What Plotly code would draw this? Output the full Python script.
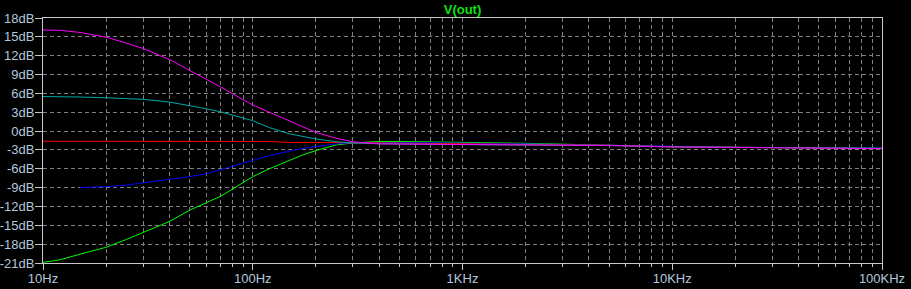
import plotly.graph_objects as go

freqs = [10, 12, 15, 20, 25, 30, 40, 50, 60, 70, 80, 90, 100, 120, 150, 170, 200,
         250, 300, 400, 500, 700, 1000, 2000, 5000, 10000, 20000, 50000, 100000]

green_db = [-20.9, -20.5, -19.6, -18.5, -17.25, -16.1, -14.4, -12.6, -11.45, -10.4, -9.25,
            -8.2, -7.25, -6.0, -4.6, -3.9, -3.1, -2.2, -1.9, -1.65, -1.65, -1.7, -1.8,
            -1.95, -2.25, -2.5, -2.6, -2.65, -2.72]
blue_db = [None, None, -9.0, -8.85, -8.6, -8.25, -7.7, -7.25, -6.8, -6.15, -5.65, -5.2,
           -4.72, -3.9, -3.19, -2.8, -2.45, -2.05, -1.85, -1.8, -1.82, -1.85, -1.88,
           -2.05, -2.25, -2.48, -2.6, -2.65, -2.72]
red_db = [-1.62, -1.62, -1.62, -1.62, -1.63, -1.63, -1.63, -1.64, -1.64, -1.64, -1.65,
          -1.65, -1.65, -1.66, -1.8, -1.8, -1.8, -1.82, -1.84, -1.88, -1.92, -1.96, -2.0,
          -2.1, -2.27, -2.5, -2.6, -2.65, -2.78]
cyan_db = [5.5, 5.48, 5.42, 5.3, 5.18, 5.05, 4.63, 4.1, 3.56, 3.08, 2.58, 2.1, 1.65, 0.55,
           -0.45, -0.8, -1.25, -1.7, -1.9, -2.0, -2.05, -2.1, -2.15, -2.22, -2.3, -2.5,
           -2.6, -2.65, -2.75]
magenta_db = [16.1, 16.05, 15.7, 14.95, 14.0, 13.15, 11.4, 9.7, 8.25, 7.05, 5.95, 4.95,
              4.15, 3.0, 1.55, 0.75, -0.2, -1.15, -1.7, -2.05, -2.08, -2.1, -2.12, -2.2,
              -2.3, -2.52, -2.62, -2.65, -2.8]

series = [
    ("green", green_db, "#00ff00"),
    ("blue", blue_db, "#0000ff"),
    ("red", red_db, "#ff0000"),
    ("cyan", cyan_db, "#00a8a8"),
    ("magenta", magenta_db, "#ff00ff"),
]

x_major = [10, 100, 1000, 10000, 100000]
x_labels = ["10Hz", "100Hz", "1KHz", "10KHz", "100KHz"]
x_minor = [m * d for d in [10, 100, 1000, 10000] for m in range(2, 10)]
y_ticks = list(range(-21, 19, 3))
y_labels = [f"{v}dB" for v in y_ticks]

label_color = "#b4c8dc"
grid_color = "#808080"
frame_color = "#c8c8c8"
font_family = "Liberation Sans, Arial, sans-serif"

fig = go.Figure()
for name, vals, color in series:
    fig.add_trace(go.Scatter(x=freqs, y=vals, mode="lines", name=name,
                             line=dict(color=color, width=1), connectgaps=False,
                             hoverinfo="skip"))

fig.update_layout(
    width=911, height=289,
    margin=dict(l=43, r=29, t=18, b=26, autoexpand=False),
    paper_bgcolor="black", plot_bgcolor="black",
    showlegend=False,
    font=dict(family=font_family, size=13, color=label_color),
    title=dict(text="<b>V(out)</b>", x=(43 + 882) / 2 / 911, xanchor="center",
               y=1 - 9 / 289, yanchor="middle",
               font=dict(family=font_family, size=13, color="#10e010")),
)

fig.update_xaxes(
    type="log", range=[1, 5], automargin=False,
    tickmode="array", tickvals=x_major, ticktext=x_labels,
    ticks="outside", ticklen=6, tickcolor=frame_color, tickwidth=1,
    ticklabelstandoff=-3,
    showgrid=True, gridcolor=grid_color, griddash="4px,3px", gridwidth=1,
    showline=True, linecolor=frame_color, linewidth=1, mirror=True,
    zeroline=False,
    minor=dict(tickmode="array", tickvals=x_minor, ticks="outside", ticklen=3,
               tickcolor=frame_color, showgrid=True, gridcolor=grid_color,
               griddash="4px,3px", gridwidth=1),
    tickfont=dict(family=font_family, size=13, color=label_color),
)
fig.update_yaxes(
    range=[-21, 18], automargin=False,
    tickmode="array", tickvals=y_ticks, ticktext=y_labels,
    ticks="outside", ticklen=7, tickcolor=frame_color, tickwidth=1,
    ticklabelstandoff=-2,
    showgrid=True, gridcolor=grid_color, griddash="4px,3px", gridwidth=1,
    showline=True, linecolor=frame_color, linewidth=1, mirror=True,
    zeroline=False,
    tickfont=dict(family=font_family, size=13, color=label_color),
)

fig.write_html("out.html")
